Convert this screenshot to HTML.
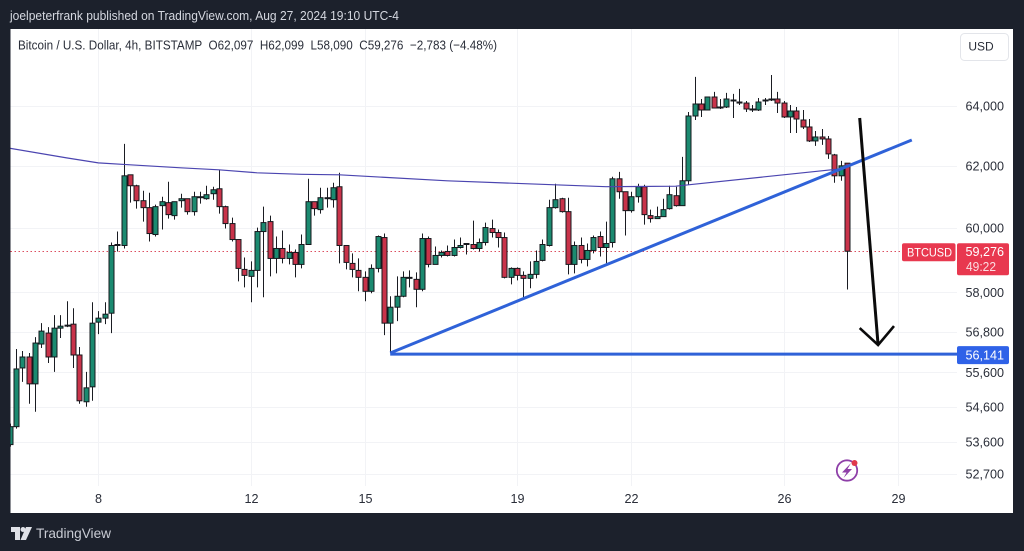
<!DOCTYPE html>
<html lang="en">
<head>
<meta charset="utf-8">
<title>BTCUSD 4h chart</title>
<style>
html,body{margin:0;padding:0;width:1024px;height:551px;overflow:hidden;background:#1c212c;}
svg{display:block;position:absolute;left:0;top:0;}
text{font-family:"Liberation Sans",sans-serif;}
</style>
</head>
<body>
<svg id="chart" xmlns="http://www.w3.org/2000/svg" width="1024" height="551" viewBox="0 0 1024 551">
  <defs><clipPath id="plot-clip"><rect x="10.5" y="29" width="1003" height="484"/></clipPath></defs>
  <rect x="0" y="0" width="1024" height="551" fill="#1c212c"/>
  <text x="10" y="20" font-size="13" fill="#d5d8e0" textLength="389" lengthAdjust="spacingAndGlyphs">joelpeterfrank published on TradingView.com, Aug 27, 2024 19:10 UTC-4</text>
  <rect x="10.5" y="29" width="1002.5" height="484" fill="#ffffff"/>
  <g id="grid"></g>
  <g id="series" clip-path="url(#plot-clip)"></g>
  <g id="overlay" clip-path="url(#plot-clip)"></g>
  <text x="18" y="49.5" font-size="13" fill="#2a2e39" textLength="479" lengthAdjust="spacingAndGlyphs" xml:space="preserve">Bitcoin / U.S. Dollar, 4h, BITSTAMP  O62,097  H62,099  L58,090  C59,276  −2,783 (−4.48%)</text>
  <rect x="960.5" y="33.5" width="48" height="27" rx="4" fill="#ffffff" stroke="#e3e5ea"/>
  <text x="981" y="50.5" font-size="12" fill="#2a2e39" text-anchor="middle">USD</text>
  <g id="y-axis"></g>
  <g id="x-axis"></g>
  <g id="labels"></g>
  <g>
    <circle cx="847" cy="470.5" r="10.2" fill="none" stroke="#8e3fa8" stroke-width="1.8"/>
    <polygon points="851,463 842,472.5 846.5,472.5 843.5,478 852,469 847.5,469" fill="#8e3fa8"/>
    <circle cx="854.5" cy="463" r="3" fill="#e0384c"/>
  </g>
  <g>
    <polygon points="11,527 20,527 20,540 15,540 15,532 11,532" fill="#dfe1e7"/>
    <circle cx="23" cy="529.5" r="2.5" fill="#dfe1e7"/>
    <polygon points="26,527 32,527 26,540 20.5,540" fill="#dfe1e7"/>
    <text x="36" y="538" font-size="14" fill="#c9ccd4" textLength="75" lengthAdjust="spacingAndGlyphs">TradingView</text>
  </g>
</svg>
<script>
var opens=[53523,54032,55733,56057,55267,56442,56769,56057,56917,56977,57037,56116,54747,55180,57097,57218,57368,59487,59456,61717,61361,60879,60656,59801,60720,60816,60401,60879,60943,60528,60975,60943,61104,61264,60688,60148,59643,58710,58495,58679,59895,60211,59051,59362,59051,59238,58865,59487,60847,60592,60943,60911,61329,59456,58896,58679,58464,58035,58741,59706,57067,57550,57883,58433,58402,58096,59675,58865,59144,59269,59144,59393,59518,59487,59362,59549,59990,59864,59706,58464,58741,58525,58433,58556,58989,59456,60656,60943,60528,58865,59456,59020,59300,59738,59393,59549,61587,61168,60560,61007,61329,60401,60306,60369,60624,61040,60720,61523,63663,64068,63865,64305,63966,63966,64170,64135,64100,63899,63865,64170,64203,64237,64100,63630,63831,63529,63295,62830,62962,62896,62369,61684,62097];
var highs=[54118,56293,56234,56175,56649,57067,56947,57308,57308,57731,57519,56353,55617,57701,57429,57701,59549,59895,62731,61717,61393,61200,61136,60752,61007,61490,60847,61104,60943,61168,61168,61361,61329,61879,60720,60338,59643,59082,58958,60021,60688,60401,59738,59927,59487,59331,59801,61587,60847,61297,61297,61458,61782,59456,59207,59051,58649,58865,59769,59832,57883,58495,58649,58679,58618,59832,59738,59424,59300,59456,59643,59706,59518,60242,59675,60179,60274,59958,59864,58772,58772,58649,58958,59300,59643,60911,61426,60975,60975,59581,59706,59518,59769,59895,60211,61652,61814,61168,61168,61426,61393,60592,60688,60943,61361,61329,62303,63798,64990,64237,64305,64480,64237,64445,64410,64580,64170,64034,64270,64270,65058,64480,64170,64034,63966,63865,63562,63162,63228,62996,62402,62172,62099];
var lows=[53466,53975,55325,54690,54459,56323,55880,55617,56620,56947,55733,54690,54602,54775,56739,57037,56769,59269,59362,60816,60624,60211,59581,59738,59958,60306,60274,60656,60433,60401,60784,60911,60911,60465,59990,59581,58341,58157,57701,58157,57853,58495,58587,58896,58865,58464,58741,59487,60401,60465,60656,60656,58896,58710,58464,58035,57731,57974,58618,56709,56175,57127,57853,58157,57550,58035,58772,58865,59082,59113,59113,59362,59175,59331,59269,59456,59706,59393,58433,58249,58372,57853,58127,58433,58958,59424,60624,60496,58556,58587,58896,58803,59207,59113,58896,59393,60943,59769,60496,60816,60116,60179,60306,60369,60592,60688,60720,61393,63529,63630,63865,63932,63899,63932,63596,64034,63798,63798,63831,64034,64170,63764,63596,63096,63096,63228,62797,62665,62698,62238,61458,61523,58090];
var closes=[54032,55704,56057,55267,56471,56828,56057,56917,56977,57007,56116,54775,55151,57067,57218,57338,59456,59456,61684,61361,60879,60656,59832,60688,60847,60433,60847,60943,60528,61007,61007,61072,61232,60688,60148,59643,58741,58525,58679,59895,60179,59051,59362,59051,59238,58865,59487,60847,60624,60975,60975,61297,59456,58927,58710,58464,58035,58741,59738,57067,57550,57883,58464,58464,58096,59675,58865,59144,59238,59144,59393,59456,59487,59362,59549,60021,59864,59706,58464,58741,58525,58433,58556,58958,59487,60656,60911,60528,58865,59456,59020,59300,59706,59393,59518,61587,61168,60560,61007,61329,60433,60306,60369,60592,61072,60720,61523,63663,64068,63865,64305,63932,63932,64237,64203,64100,63899,63865,64135,64203,64237,64100,63630,63831,63562,63295,62830,62962,62896,62402,61684,62010,59276];
var maIndex=[0,9,14,19,27,33,39,46,52,69,86,94,105,107,131,132];
var maValues=[62590,62270,62107,62043,61944,61879,61782,61733,61717,61523,61393,61329,61345,61393,61912,62043];
var priceTicks=[64000,62000,60000,58000,56800,55600,54600,53600,52700];
var dateTicks=[8,12,15,19,22,26,29];
var dateTickIndex=[14,38,56,80,98,122,140];
var lastPrice=59276;
var targetPrice=56141;
var trendIndex=[60,142.2];
var trendPrices=[56175,62863];
var arrowIndex=[134,136.9];
var arrowPrices=[63596,56412];
var arrowHeadIndex=[134,136.9,139.4];
var arrowHeadPrices=[56917,56412,56977];

function xScale(i){return 9.5+6.345*i;}
function yScale(p){return 106+1894*Math.log(64000/p);}
var NS='http://www.w3.org/2000/svg';
function mk(parent,tag,attrs,txt){
  var el=document.createElementNS(NS,tag);
  for(var k in attrs){el.setAttribute(k,attrs[k]);}
  if(txt!==undefined){el.textContent=txt;}
  document.getElementById(parent).appendChild(el);
  return el;
}
function fmt(n){return String(n).replace(/\B(?=(\d{3})+$)/g,',');}
function pathOf(idx,vals){
  return idx.map(function(v,k){return (k?'L':'M')+xScale(v).toFixed(1)+' '+yScale(vals[k]).toFixed(1);}).join(' ');
}

priceTicks.forEach(function(p){
  var y=Math.round(yScale(p))+0.5;
  var g=mk('grid','line',{x1:10.5,x2:957,y1:y,y2:y,stroke:'#f2f3f6','stroke-width':1});
  
  
  var t=mk('y-axis','text',{x:1004,y:yScale(p)+4.5,'font-size':12.6,fill:'#2a2e39','text-anchor':'end'},fmt(p));
  
  
});
dateTicks.forEach(function(d,k){
  var x=Math.round(xScale(dateTickIndex[k]))+0.5;
  var g=mk('grid','line',{x1:x,x2:x,y1:29,y2:486,stroke:'#f2f3f6','stroke-width':1});
  
  
  var t=mk('x-axis','text',{x:x,y:503,'font-size':12.6,fill:'#2a2e39','text-anchor':'middle'},String(d));
  
  
});

var lineY=Math.round(yScale(lastPrice))+0.5;
var priceLine=mk('series','line',{x1:10.5,x2:902,y1:lineY,y2:lineY,stroke:'#dc4f60','stroke-width':1,'stroke-dasharray':'1.5 2.5'});



opens.forEach(function(o,i){
  var c=closes[i];
  var x=Math.round(xScale(i));
  var top=yScale(Math.max(o,c)),bot=yScale(Math.min(o,c));
  var w=mk('series','line',{x1:x+0.5,x2:x+0.5,y1:yScale(highs[i]),y2:yScale(lows[i]),stroke:'#1a1c22','stroke-width':1});
  
  
  var b=mk('series','rect',{x:x-2,y:top,width:5,height:Math.max(bot-top,0.6),fill:c>=o?'#1b8a70':'#c9334a',stroke:'#16181d','stroke-width':1});
  
  
});

var ma=mk('overlay','path',{d:pathOf(maIndex,maValues),fill:'none',stroke:'#4b45b0','stroke-width':1.2});



var hl=mk('overlay','line',{x1:xScale(trendIndex[0]),x2:957,y1:yScale(targetPrice),y2:yScale(targetPrice),stroke:'#2f62d8','stroke-width':3});



var tl=mk('overlay','path',{d:pathOf(trendIndex,trendPrices),fill:'none',stroke:'#2f62d8','stroke-width':3});



var as=mk('overlay','path',{d:pathOf(arrowIndex,arrowPrices),fill:'none',stroke:'#0b0b0b','stroke-width':3});



var ah=mk('overlay','path',{d:pathOf(arrowHeadIndex,arrowHeadPrices),fill:'none',stroke:'#0b0b0b','stroke-width':2.6});



var ly=yScale(lastPrice);
var sb=mk('labels','rect',{x:902,y:ly-8,width:53.5,height:18,rx:2,fill:'#e8384f'});


var st=mk('labels','text',{x:907,y:ly+5.5,'font-size':12.4,fill:'#ffffff',textLength:45,lengthAdjust:'spacingAndGlyphs'},'BTCUSD');


var pb=mk('labels','rect',{x:957,y:ly-8,width:52,height:32,rx:2,fill:'#e8384f'});


var pt=mk('labels','text',{x:1004,y:ly+5,'font-size':12.6,fill:'#ffffff','text-anchor':'end'},fmt(lastPrice));


var cd=mk('labels','text',{x:966,y:ly+20,'font-size':12.6,fill:'#fbdde1',textLength:30,lengthAdjust:'spacingAndGlyphs'},'49:22');


var ty=yScale(targetPrice);
var tb=mk('labels','rect',{x:957,y:ty-8,width:52,height:18,rx:2,fill:'#2f62e8'});


var tt=mk('labels','text',{x:1004,y:ty+5.5,'font-size':12.6,fill:'#ffffff','text-anchor':'end'},fmt(targetPrice));


</script>
</body>
</html>
